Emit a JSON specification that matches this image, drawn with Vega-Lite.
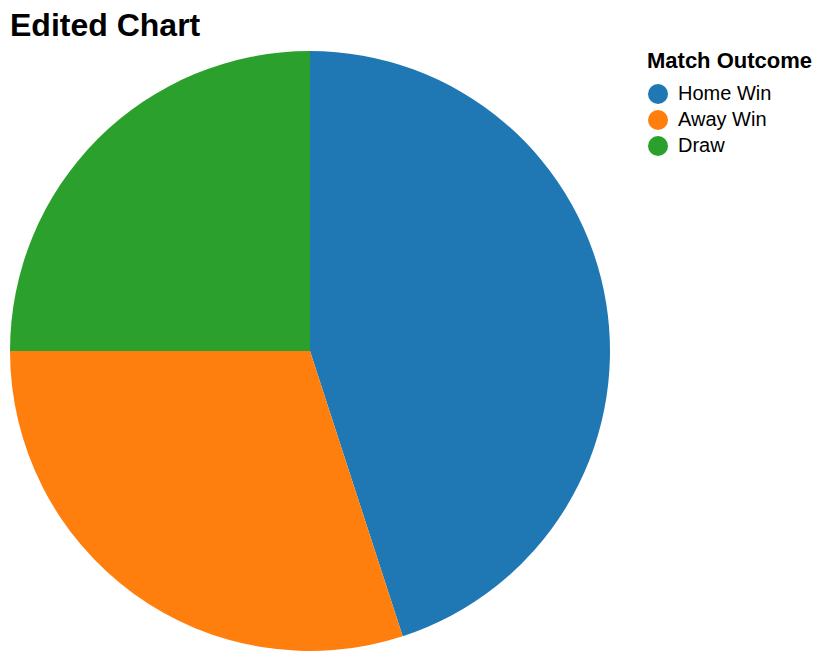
{
  "$schema": "https://vega.github.io/schema/vega-lite/v6.json",
  "width": 600,
  "height": 600,
  "padding": {"left": 10, "top": 10, "right": 5, "bottom": 10},
  "title": {"text": "Edited Chart", "anchor": "start", "fontSize": 32, "font": "Liberation Sans", "fontWeight": "bold", "color": "#000", "offset": 8},
  "data": {"values": [
    {"outcome": "Home Win", "value": 45},
    {"outcome": "Away Win", "value": 30},
    {"outcome": "Draw", "value": 25}
  ]},
  "mark": {"type": "arc"},
  "encoding": {
    "theta": {"field": "value", "type": "quantitative", "stack": true},
    "color": {"field": "outcome", "type": "nominal", "sort": ["Home Win", "Away Win", "Draw"], "title": "Match Outcome",
      "scale": {"range": ["#1f77b4", "#ff7f0e", "#2ca02c"]},
      "legend": {"titleFontSize": 22, "labelFontSize": 20, "symbolSize": 400, "titleFont": "Liberation Sans", "labelFont": "Liberation Sans", "titleColor": "#000", "labelColor": "#000", "rowPadding": 5, "titlePadding": 10, "offset": 37, "labelOffset": 9}},
    "order": {"field": "value", "type": "quantitative", "sort": "descending"}
  },
  "config": {"view": {"stroke": null}}
}
